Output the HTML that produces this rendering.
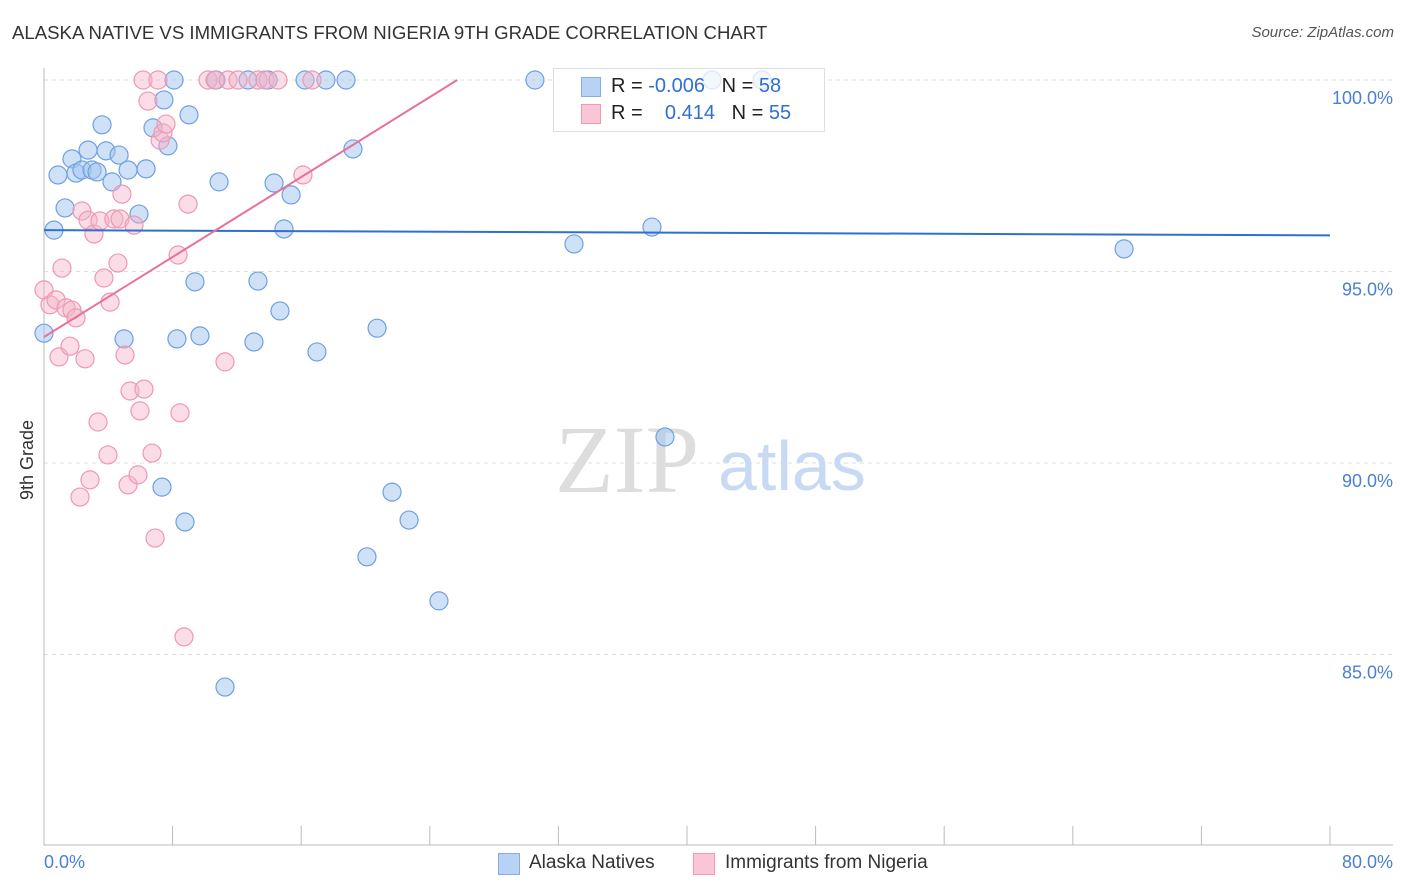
<!DOCTYPE html>
<html><head><meta charset="utf-8"><style>
body{margin:0;background:#fff;font-family:"Liberation Sans",sans-serif;}
#wrap{position:relative;width:1406px;height:892px;overflow:hidden;}
.t{position:absolute;white-space:nowrap;}
</style></head><body>
<div id="wrap">
<div class="t" style="left:12px;top:22px;font-size:18.6px;color:#333;">ALASKA NATIVE VS IMMIGRANTS FROM NIGERIA 9TH GRADE CORRELATION CHART</div>
<div class="t" style="right:12px;top:24px;font-size:15px;color:#555;font-style:italic;">Source: ZipAtlas.com</div>
<svg id="svg" width="1406" height="892" style="position:absolute;left:0;top:0"></svg>
</div>
<script>
const blueX=[0,0.62,0.87,1.31,1.74,1.99,2.36,2.74,2.99,3.30,3.61,3.86,4.23,4.67,4.98,5.23,5.91,6.35,6.78,7.34,7.46,7.71,8.09,8.27,8.77,9.02,9.39,9.70,10.70,10.89,11.26,12.69,13.06,13.31,13.94,14.31,14.68,14.93,15.37,16.24,16.98,17.54,18.79,19.22,20.09,20.72,21.65,22.71,24.57,30.54,32.97,37.82,38.63,41.56,44.67,67.19];
const blueY=[93.39,96.08,97.52,96.66,97.94,97.57,97.65,98.17,97.65,97.60,98.83,98.15,97.34,98.04,93.24,97.65,96.50,97.68,98.75,89.37,99.48,98.28,100,93.24,88.46,99.09,94.73,93.32,100,97.34,84.15,100,93.16,94.75,100,97.31,93.97,96.11,97.00,100,92.90,100,100,98.20,87.55,93.52,89.24,88.51,86.40,100,95.72,96.16,90.68,100,100,95.59];
const pinkX=[0,0.37,0.75,0.93,1.12,1.37,1.62,1.74,1.99,2.24,2.36,2.55,2.74,2.86,3.11,3.36,3.48,3.73,3.98,4.11,4.35,4.60,4.73,4.85,5.04,5.23,5.35,5.60,5.85,5.97,6.16,6.22,6.47,6.72,6.91,7.09,7.22,7.40,7.59,8.34,8.46,8.71,8.96,10.20,10.64,11.26,11.45,12.07,13.31,13.75,14.56,16.11,16.67];
const pinkY=[94.52,94.13,94.26,92.77,95.09,94.05,93.05,93.99,93.79,89.11,96.58,92.72,96.34,89.56,95.98,91.07,96.32,94.83,90.21,94.20,96.37,95.22,96.37,97.02,92.82,89.43,91.88,96.21,89.69,91.36,100,91.93,99.45,90.26,88.04,100,98.43,98.62,98.85,95.43,91.31,85.46,96.76,100,100,92.64,100,100,100,100,100,97.52,100];
// trend lines: [intercept, slope]
const blueTrend=[96.08,-0.0017];
const pinkTrend=[93.29,0.261];
const yTicks=[100,95,90,85];
const yTickLabels=["100.0%","95.0%","90.0%","85.0%"];
const xTicks=[8,16,24,32,40,48,56,64,72,80];
const svg=document.getElementById('svg');const NS='http://www.w3.org/2000/svg';
const X=v=>44+v*16.075, Y=v=>80+(100-v)*38.3;
function mk(t,a,p){const e=document.createElementNS(NS,t);for(const k in a)e.setAttribute(k,a[k]);(p||svg).appendChild(e);return e;}
yTicks.forEach((v,i)=>{
 const g=mk('line',{x1:44,x2:1393,y1:Y(v),y2:Y(v),stroke:'#ddd','stroke-dasharray':'4,4'});
 
 
 const t=mk('text',{x:1393,y:Y(v)+24,'text-anchor':'end','font-size':18,fill:'#4a7fd4','font-family':'Liberation Sans'});
 t.textContent=yTickLabels[i];
 
 
});
const ax=mk('path',{d:'M44 68V845H1393',stroke:'#bbb',fill:'none'});


xTicks.forEach(v=>{const l=mk('line',{x1:X(v),x2:X(v),y1:826,y2:845,stroke:'#bbb'});
 
 });
const w1=mk('text',{x:555,y:492,'font-size':96,fill:'#ddd','font-family':'Liberation Serif'});w1.textContent='ZIP';


const w2=mk('text',{x:718,y:490,'font-size':70,fill:'#c8daf3','font-family':'Liberation Sans'});w2.textContent='atlas';


function pts(xs,ys,fill,stroke,name){xs.forEach((x,i)=>{const c=mk('circle',{cx:X(x),cy:Y(ys[i]),r:9,fill:fill,stroke:stroke,'stroke-width':1.2});
 
 });}
pts(blueX,blueY,'rgba(160,196,240,0.5)','#6fa0e0','alaska-point');
pts(pinkX,pinkY,'rgba(245,180,200,0.45)','#ee98b4','nigeria-point');
const [ba,bb]=blueTrend;
const bl=mk('line',{x1:X(0),y1:Y(ba),x2:X(80),y2:Y(ba+bb*80),stroke:'#2f6fd0','stroke-width':2});


const [pa,pb]=pinkTrend;
const xe=Math.min(80,(100-pa)/pb);
const pl=mk('line',{x1:X(0),y1:Y(pa),x2:X(xe),y2:Y(pa+pb*xe),stroke:'#e87099','stroke-width':2});


</script>
<div style="position:absolute;left:553px;top:68px;width:270px;height:62px;border:1px solid #ddd;background:rgba(255,255,255,0.75);font-size:20px;color:#222;">
 <div style="position:absolute;left:27px;top:8px;width:18px;height:18px;background:#b8d2f5;border:1px solid #80aee6"></div>
 <div class="t" style="left:57px;top:6px">R = <span style="color:#2f6fd0">-0.006</span>&nbsp;&nbsp;&nbsp;N = <span style="color:#2f6fd0">58</span></div>
 <div style="position:absolute;left:27px;top:35px;width:18px;height:18px;background:#f9c6d6;border:1px solid #ee98b4"></div>
 <div class="t" style="left:57px;top:33px">R = &nbsp;&nbsp;&nbsp;<span style="color:#2f6fd0">0.414</span>&nbsp;&nbsp;&nbsp;N = <span style="color:#2f6fd0">55</span></div>
</div>
<div class="t" style="left:44px;top:852px;font-size:18px;color:#4a7fd4">0.0%</div>
<div class="t" style="right:13px;top:852px;font-size:18px;color:#4a7fd4">80.0%</div>
<div class="t" style="left:17px;top:500px;font-size:18px;color:#333;transform:rotate(-90deg);transform-origin:0 0">9th Grade</div>
<div style="position:absolute;left:498px;top:853px;width:20px;height:20px;background:#b8d2f5;border:1px solid #80aee6"></div>
<div class="t" style="left:529px;top:852px;font-size:19px;color:#333">Alaska Natives</div>
<div style="position:absolute;left:693px;top:853px;width:20px;height:20px;background:#f9c6d6;border:1px solid #ee98b4"></div>
<div class="t" style="left:725px;top:852px;font-size:19px;color:#333">Immigrants from Nigeria</div>
</body></html>
